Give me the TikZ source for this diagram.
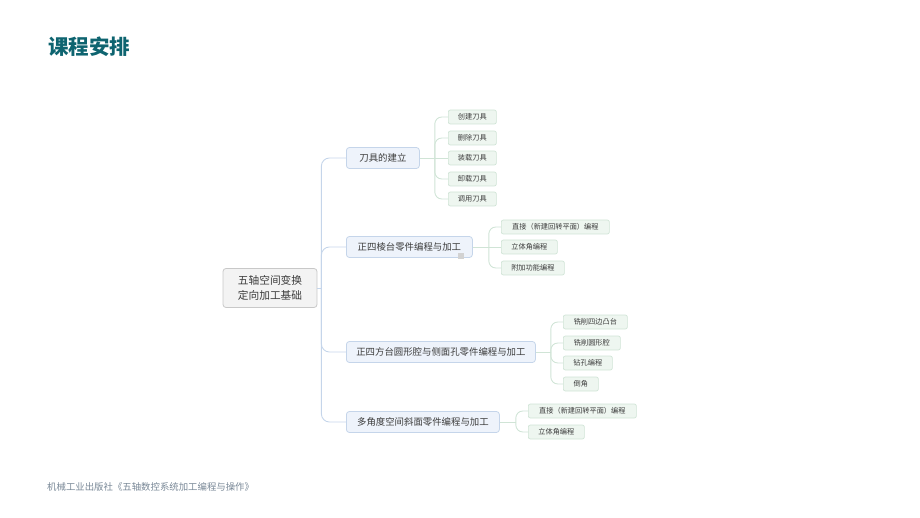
\documentclass[tikz,border=0pt]{standalone}
\usepackage{fontspec}
\setmainfont{Noto Sans CJK SC}
\definecolor{titleteal}{RGB}{14,100,112}
\definecolor{textdark}{RGB}{60,60,60}
\definecolor{footgray}{RGB}{120,135,150}
\definecolor{rootfill}{RGB}{243,243,243}
\definecolor{rootline}{RGB}{200,200,200}
\definecolor{topicfill}{RGB}{238,243,251}
\definecolor{topicline}{RGB}{197,213,234}
\definecolor{subfill}{RGB}{238,246,240}
\definecolor{subline}{RGB}{208,228,214}
\tikzset{
	rootbox/.style={draw=rootline, fill=rootfill, rounded corners=3pt, line width=0.8pt, align=center, text=textdark, font=\fontsize{10.7}{15}\selectfont, minimum width=94pt, minimum height=39pt, inner sep=0pt},
	topicbox/.style={draw=topicline, fill=topicfill, rounded corners=3pt, line width=0.8pt, text=textdark, font=\fontsize{9.4}{11}\selectfont, minimum height=21pt, inner sep=0pt, anchor=west},
	subbox/.style={draw=subline, fill=subfill, rounded corners=2pt, line width=0.7pt, text=textdark, font=\fontsize{7.2}{8}\selectfont, minimum height=14pt, inner sep=0pt, anchor=west},
	topiclink/.style={draw=topicline, line width=0.9pt, rounded corners=8pt},
	sublink/.style={draw=subline, line width=0.9pt, rounded corners=7pt},
}
\begin{document}
\begin{tikzpicture}[x=1pt, y=-1pt]
	\useasboundingbox (0,0) rectangle (920,518);
	
	\node [anchor=west, text=titleteal, font=\fontsize{20.5}{24}\selectfont\bfseries, inner sep=0pt] (title) at (48,47) {课程安排};
	\node [anchor=west, text=footgray, font=\fontsize{9.4}{11}\selectfont, inner sep=0pt] (foot) at (47,487) {机械工业出版社《五轴数控系统加工编程与操作》};
	
	% root and main topics
	\node [rootbox] (root) at (270,288) {五轴空间变换\\定向加工基础};
	\node [topicbox, minimum width=73pt] (t1) at (346,158) {刀具的建立};
	\node [topicbox, minimum width=126pt] (t2) at (346,247) {正四棱台零件编程与加工};
	\node [topicbox, minimum width=189pt] (t3) at (346,352) {正四方台圆形腔与侧面孔零件编程与加工};
	\node [topicbox, minimum width=153pt] (t4) at (346,422) {多角度空间斜面零件编程与加工};
	\fill[gray!35] (458,253) rectangle (464,259);
	
	\draw[topiclink] (root.east) -- ++(4,0) coordinate (j0);
	\draw[topiclink] (j0) |- (t1.west);
	\draw[topiclink] (j0) |- (t2.west);
	\draw[topiclink] (j0) |- (t3.west);
	\draw[topiclink] (j0) |- (t4.west);
	
	% sub topics
	\node [subbox, minimum width=48pt] (s11) at (448,117) {创建刀具};
	\node [subbox, minimum width=48pt] (s12) at (448,138) {删除刀具};
	\node [subbox, minimum width=48pt] (s13) at (448,158) {装载刀具};
	\node [subbox, minimum width=48pt] (s14) at (448,179) {卸载刀具};
	\node [subbox, minimum width=48pt] (s15) at (448,199) {调用刀具};
	
	\node [subbox, minimum width=108pt] (s21) at (501,227) {直接（新建回转平面）编程};
	\node [subbox, minimum width=56pt] (s22) at (501,247) {立体角编程};
	\node [subbox, minimum width=63pt] (s23) at (501,268) {附加功能编程};
	
	\node [subbox, minimum width=64pt] (s31) at (563,322) {铣削四边凸台};
	\node [subbox, minimum width=57pt] (s32) at (563,343) {铣削圆形腔};
	\node [subbox, minimum width=49pt] (s33) at (563,363) {钻孔编程};
	\node [subbox, minimum width=35pt] (s34) at (563,384) {倒角};
	
	\node [subbox, minimum width=108pt] (s41) at (528,411) {直接（新建回转平面）编程};
	\node [subbox, minimum width=56pt] (s42) at (528,432) {立体角编程};
	
	\draw[sublink] (t1.east) -- ++(15,0) coordinate (j1);
	\draw[sublink] (j1) |- (s11.west);
	\draw[sublink] (j1) |- (s12.west);
	\draw[sublink] (j1) -- (s13.west);
	\draw[sublink] (j1) |- (s14.west);
	\draw[sublink] (j1) |- (s15.west);
	
	\draw[sublink] (t2.east) -- ++(16,0) coordinate (j2);
	\draw[sublink] (j2) |- (s21.west);
	\draw[sublink] (j2) -- (s22.west);
	\draw[sublink] (j2) |- (s23.west);
	
	\draw[sublink] (t3.east) -- ++(15,0) coordinate (j3);
	\draw[sublink] (j3) |- (s31.west);
	\draw[sublink] (j3) |- (s32.west);
	\draw[sublink] (j3) |- (s33.west);
	\draw[sublink] (j3) |- (s34.west);
	
	\draw[sublink] (t4.east) -- ++(16,0) coordinate (j4);
	\draw[sublink] (j4) |- (s41.west);
	\draw[sublink] (j4) |- (s42.west);
\end{tikzpicture}
\end{document}
